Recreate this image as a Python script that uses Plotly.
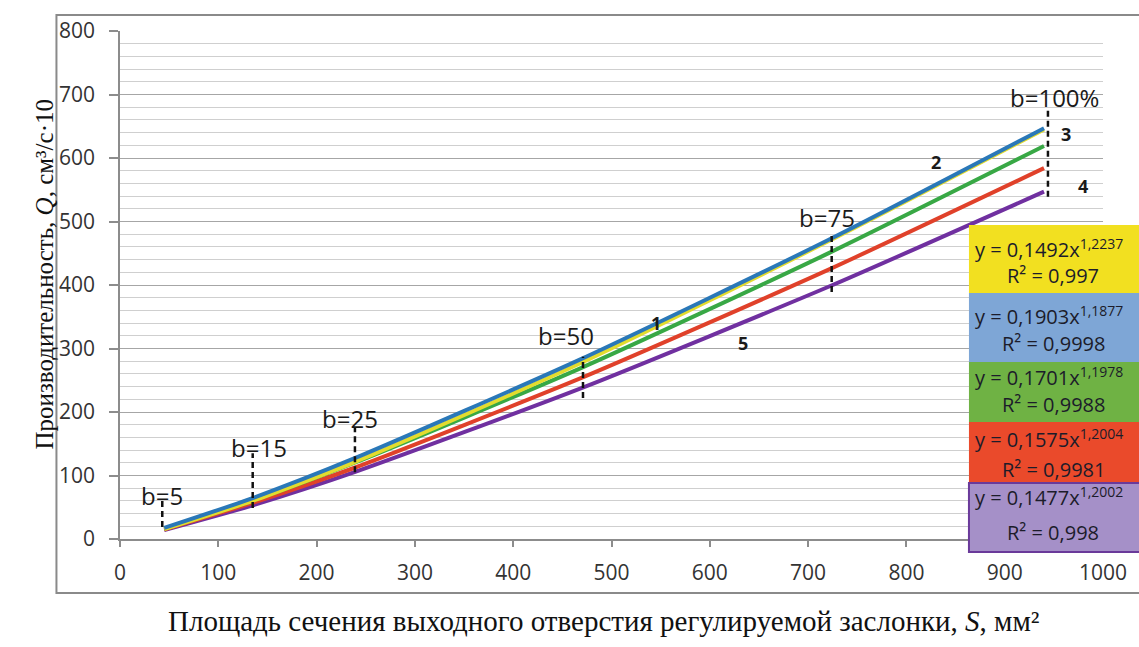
import plotly.graph_objects as go

# ---------------- data ----------------
S_points = [45, 135, 240, 470, 722, 940]            # mm^2, positions b=5..100%
Q_curve1 = [15.5, 60, 122, 278, 470, 645]            # yellow
Q_curve2 = [17.5, 64.5, 128, 284, 472, 647]          # blue
Q_curve3 = [16, 60.5, 121, 270, 451, 619]            # green
Q_curve4 = [15, 57, 113, 254, 425, 584]              # red
Q_curve5 = [14, 53, 106, 238, 398, 547]              # purple

b_labels = ["b=5", "b=15", "b=25", "b=50", "b=75", "b=100%"]
b_S = [43, 135, 239, 471, 724, 944]
b_Q_top = [61, 135, 175, 287, 482, 679]
b_Q_bottom = [19, 49, 105, 222, 389, 539]

curve_numbers = ["1", "2", "3", "4", "5"]

fit_eq = [("0,1492", "1,2237", "0,997"),
          ("0,1903", "1,1877", "0,9998"),
          ("0,1701", "1,1978", "0,9988"),
          ("0,1575", "1,2004", "0,9981"),
          ("0,1477", "1,2002", "0,998")]

x_ticks = [0, 100, 200, 300, 400, 500, 600, 700, 800, 900, 1000]
y_ticks = [0, 100, 200, 300, 400, 500, 600, 700, 800]

# ---------------- styling ----------------
W, H = 1139, 647
L, R, T, B = 120, 29, 31, 108
PW, PH = W - L - R, H - T - B

def px_x(p):  # pixel -> paper
    return (p - L) / PW

def px_y(p):
    return (H - B - p) / PH

def dx(p):  # pixel -> data
    return (p - L) / PW * 1000

def dy(p):
    return (H - B - p) / PH * 800

line_colors = ["#e3dc2e", "#2a78b8", "#38a845", "#e0412a", "#7030a0"]
box_colors = ["#f2e020", "#7ea6d6", "#6fb244", "#ea4a2b", "#a590c8"]
box_edges = [None, None, None, None, "#6a3a9a"]

fig = go.Figure()

order = [4, 3, 2, 0, 1]
curves = [Q_curve1, Q_curve2, Q_curve3, Q_curve4, Q_curve5]
for i in order:
    fig.add_trace(go.Scatter(x=S_points, y=curves[i], mode="lines",
                             line=dict(color=line_colors[i], width=4, shape="spline", smoothing=0.6),
                             hoverinfo="skip", showlegend=False))

for k in range(len(b_labels)):
    fig.add_trace(go.Scatter(x=[b_S[k], b_S[k]], y=[b_Q_bottom[k], b_Q_top[k]], mode="lines",
                             line=dict(color="#111111", width=2.5, dash="6px,4px"),
                             hoverinfo="skip", showlegend=False))

annotations = []
label_px = [(162, 495), (260, 447), (352, 418), (569, 335), (832, 217), (1061, 97)]
for k, t in enumerate(b_labels):
    annotations.append(dict(x=dx(label_px[k][0]), y=dy(label_px[k][1]), xref="x", yref="y",
                            xanchor="center", yanchor="middle",
                            text=t, showarrow=False, font=dict(family="Open Sans", size=24, color="#1a1a1a")))

num_px = [(660, 323), (942, 162), (1073, 134), (1090, 186), (747, 343)]
for k, t in enumerate(curve_numbers):
    annotations.append(dict(x=dx(num_px[k][0]), y=dy(num_px[k][1]), xref="x", yref="y",
                            xanchor="center", yanchor="middle",
                            text="<b>%s</b>" % t, showarrow=False,
                            font=dict(family="Open Sans", size=18, color="#1a1a1a")))

shapes = []
# chart outer frame
shapes.append(dict(type="rect", xref="paper", yref="paper",
                   x0=px_x(56), x1=px_x(1160), y0=px_y(593), y1=px_y(15),
                   line=dict(color="#8a8a8a", width=2), fillcolor="rgba(0,0,0,0)", layer="below"))

box_tops = [225, 293, 362, 422, 483]
box_bottoms = [293, 362, 422, 483, 552]
line1_off = [23, 22, 14, 16, 13]
line2_off = [50, 50, 42, 47, 49]
for k in range(5):
    shapes.append(dict(type="rect", xref="paper", yref="paper",
                       x0=px_x(975), x1=px_x(1170), y0=px_y(box_bottoms[k]), y1=px_y(box_tops[k]),
                       fillcolor=box_colors[k],
                       line=dict(color=box_edges[k] or box_colors[k], width=2 if box_edges[k] else 0),
                       layer="above"))
    a, p, r2 = fit_eq[k]
    annotations.append(dict(x=px_x(979), y=px_y(box_tops[k] + line1_off[k]), xref="paper", yref="paper",
                            xanchor="left", yanchor="middle", showarrow=False,
                            text="y = %sx<sup>%s</sup>" % (a, p),
                            font=dict(family="Open Sans", size=20, color="#1c1c2a")))
    annotations.append(dict(x=px_x(1060), y=px_y(box_tops[k] + line2_off[k]), xref="paper", yref="paper",
                            xanchor="center", yanchor="middle", showarrow=False,
                            text="R² = %s" % r2,
                            font=dict(family="Open Sans", size=20, color="#1c1c2a")))

# axis titles
annotations.append(dict(x=px_x(43), y=px_y(274), xref="paper", yref="paper", textangle=-90,
                        xanchor="center", yanchor="middle",
                        text="Производительность, <i>Q</i>, см³/с·10", showarrow=False,
                        font=dict(family="Liberation Serif", size=25, color="#111111")))
annotations.append(dict(x=px_x(607), y=px_y(621), xref="paper", yref="paper",
                        xanchor="center", yanchor="middle",
                        text="Площадь сечения выходного отверстия регулируемой заслонки, <i>S</i>, мм²",
                        showarrow=False, font=dict(family="Liberation Serif", size=29, color="#111111")))

fig.update_layout(
    width=W, height=H, autosize=False,
    margin=dict(l=L, r=R, t=T, b=B, pad=0),
    paper_bgcolor="white", plot_bgcolor="white",
    shapes=shapes, annotations=annotations,
    xaxis=dict(range=[0, 1000], tickvals=x_ticks, showgrid=False, zeroline=False,
               showline=True, linecolor="#8c8c8c", linewidth=1.5,
               ticks="outside", ticklen=6, tickcolor="#8c8c8c", tickwidth=1.5,
               tickfont=dict(family="Open Sans", size=21, color="#333333"), ticklabelstandoff=8),
    yaxis=dict(range=[0, 800], tickvals=y_ticks, showgrid=True, gridcolor="#a6a6a6", gridwidth=1.3,
               zeroline=False, showline=True, linecolor="#8c8c8c", linewidth=1.5,
               ticks="outside", ticklen=9, tickcolor="#8c8c8c", tickwidth=1.5,
               minor=dict(dtick=20, showgrid=True, gridcolor="#cfcfcf", gridwidth=1, ticks=""),
               tickfont=dict(family="Open Sans", size=21, color="#333333"), ticklabelstandoff=10),
)

fig.write_html("out.html", config={"displayModeBar": False},
               post_script="document.body.style.margin='0';document.body.style.overflow='hidden';")
